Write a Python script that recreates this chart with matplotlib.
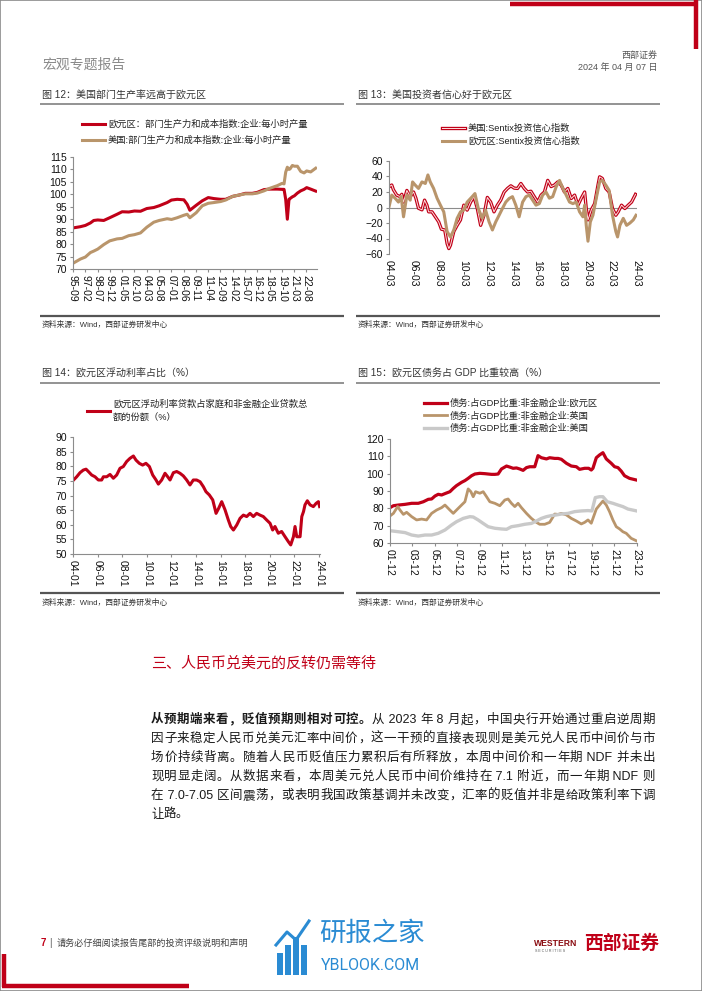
import re
import matplotlib
matplotlib.use("Agg")
import matplotlib.pyplot as plt
from matplotlib.lines import Line2D
from matplotlib.patches import Rectangle
from matplotlib.legend_handler import HandlerTuple

plt.rcParams['font.family'] = ['Liberation Sans', 'Noto Sans CJK SC', 'DejaVu Sans']

# ---------------- data ----------------
# Fig 12: productivity index (decimal years)
c1_years = [1995.67, 1996.52, 1997.09, 1997.67, 1998.06, 1998.52, 1999.21, 1999.90, 2000.75, 2001.33,
            2002.10, 2002.75, 2003.45, 2004.18, 2004.98, 2005.60, 2006.52, 2007.02, 2007.68, 2008.45,
            2008.83, 2009.14, 2009.87, 2010.57, 2011.26, 2011.91, 2012.68, 2013.26, 2014.10, 2014.80,
            2015.53, 2016.34, 2016.92, 2017.69, 2018.34, 2019.23, 2019.77, 2020.00, 2020.19, 2020.38,
            2020.57, 2020.69, 2020.96, 2021.19, 2021.54, 2021.92, 2022.31, 2022.61, 2023.07, 2023.65]
c1_euro = [86.5, 87.0, 87.5, 88.5, 89.5, 89.7, 89.5, 90.6, 92.0, 93.0,
           92.9, 93.3, 93.2, 94.3, 94.7, 95.4, 96.7, 97.7, 98.0, 97.8,
           96.0, 93.6, 95.6, 97.4, 98.7, 98.3, 98.0, 98.0, 99.2, 99.7,
           100.4, 100.4, 100.8, 101.9, 102.1, 102.1, 102.0, 102.0, 98.0, 90.0,
           98.0, 98.3, 99.0, 99.4, 100.5, 101.4, 102.0, 102.7, 102.1, 101.3]
c1_us = [72.3, 74.0, 74.8, 76.6, 77.2, 78.0, 79.8, 81.3, 82.1, 82.3,
         83.4, 83.8, 84.5, 86.8, 88.8, 89.5, 90.2, 89.9, 90.6, 91.6,
         92.0, 90.6, 92.6, 95.4, 96.4, 96.7, 97.1, 97.7, 99.2, 99.7,
         100.2, 100.2, 100.5, 101.4, 102.4, 103.5, 104.4, 104.2, 108.9, 110.9,
         110.0, 110.2, 111.6, 111.3, 111.3, 109.2, 108.6, 109.4, 109.0, 110.5]
c1_ticklabels = ['95-09', '97-02', '98-07', '99-12', '01-05', '02-10', '04-03', '05-08', '07-01', '08-06',
                 '09-11', '11-04', '12-09', '14-02', '15-07', '16-12', '18-05', '19-10', '21-03', '22-08']
c1_names = ['欧元区：部门生产力和成本指数:企业:每小时产量', '美国:部门生产力和成本指数:企业:每小时产量']

# Fig 13: Sentix investor confidence
c2_us_years = [2004.17, 2004.39, 2004.52, 2004.79, 2005.06, 2005.20, 2005.34, 2005.61, 2005.88, 2006.15,
               2006.34, 2006.55, 2006.83, 2007.04, 2007.23, 2007.37, 2007.64, 2007.91, 2008.18, 2008.40,
               2008.67, 2008.86, 2009.00, 2009.13, 2009.40, 2009.67, 2009.94, 2010.21, 2010.48, 2010.76,
               2011.03, 2011.30, 2011.57, 2011.84, 2012.11, 2012.38, 2012.65, 2012.92, 2013.19, 2013.47,
               2013.74, 2014.01, 2014.28, 2014.55, 2014.82, 2015.09, 2015.36, 2015.63, 2015.90, 2016.18,
               2016.45, 2016.72, 2016.99, 2017.26, 2017.53, 2017.80, 2018.07, 2018.34, 2018.61, 2018.89,
               2019.16, 2019.43, 2019.70, 2019.97, 2020.10, 2020.24, 2020.51, 2020.78, 2021.05, 2021.18,
               2021.40, 2021.68, 2021.95, 2022.22, 2022.49, 2022.68, 2022.95, 2023.22, 2023.49, 2023.76,
               2024.08]
c2_us_vals = [26.7, 29, 23, 16, 14, 17, 7, 22, 14, 20,
              12, -1, -3, 9.5, 3, -5.6, -5.6, -12, -18.5, -28,
              -29, -46.6, -53, -48.7, -31, -23, -16, 3, -3.4, 7,
              14, -1.3, -23, -10, 13, 7, -5.6, 3, 9.5, 20,
              24.6, 28, 25, 24.6, 31, 24.6, 20, 21, 14, 7,
              16, 20, 35, 27, 29, 33, 29, 20, 24.6, 11.6,
              16, 3, 12, 20, -1, -16, -3, 5, 29, 39.6,
              37.5, 24.6, 20, -1.3, -10, -5.6, 3, -1.3, 3, 7,
              17]
c2_eu_years = [2004.17, 2004.39, 2004.66, 2004.93, 2005.15, 2005.34, 2005.61, 2005.88, 2006.07, 2006.28,
               2006.55, 2006.83, 2007.10, 2007.31, 2007.50, 2007.77, 2008.05, 2008.32, 2008.59, 2008.86,
               2009.13, 2009.40, 2009.67, 2009.94, 2010.21, 2010.48, 2010.89, 2011.11, 2011.38, 2011.70,
               2011.97, 2012.25, 2012.52, 2012.79, 2013.06, 2013.33, 2013.60, 2013.87, 2014.14, 2014.41,
               2014.68, 2014.96, 2015.23, 2015.50, 2015.77, 2016.04, 2016.31, 2016.58, 2016.85, 2017.12,
               2017.39, 2017.67, 2017.94, 2018.21, 2018.48, 2018.75, 2019.02, 2019.29, 2019.56, 2019.83,
               2019.97, 2020.10, 2020.24, 2020.43, 2020.64, 2020.91, 2021.18, 2021.40, 2021.68, 2021.95,
               2022.22, 2022.49, 2022.63, 2022.82, 2023.09, 2023.36, 2023.63, 2023.90, 2024.12]
c2_eu_vals = [1, 16, 12, 7, 14, -12, 16, 9.5, 33, 29,
              24.6, 33, 31, 42, 33, 24.6, 12, 3, -5.6, -31,
              -38, -29, -14, -5.6, -3.4, 7, 14, 18, -1.3, -14,
              -3.4, -18.5, -29, -18.5, -10, -1.3, 7, 11.6, 14, 3,
              -12, 7, 14, 16, 9.5, 3, 5, 16, 20, 12,
              14, 26.7, 35, 24.6, 16, 7, 5, 7, -5.6, -12,
              3, -23, -43.5, -18.5, -10, 12, 33, 35, 29, 22,
              -10, -31, -38, -23, -14, -23, -20, -16, -10]
c2_ticklabels = ['04-03', '06-03', '08-03', '10-03', '12-03', '14-03', '16-03', '18-03', '20-03', '22-03', '24-03']
c2_names = ['美国:Sentix投资信心指数', '欧元区:Sentix投资信心指数']

# Fig 14: euro area floating-rate loan share (%)
c3_years = [2004.00, 2004.30, 2004.57, 2004.84, 2005.06, 2005.25, 2005.52, 2005.79, 2006.06, 2006.33,
            2006.47, 2006.74, 2007.01, 2007.28, 2007.55, 2007.82, 2008.09, 2008.36, 2008.63, 2008.91,
            2009.12, 2009.39, 2009.66, 2009.93, 2010.21, 2010.48, 2010.75, 2010.94, 2011.21, 2011.48,
            2011.70, 2011.89, 2012.16, 2012.43, 2012.70, 2012.97, 2013.24, 2013.51, 2013.78, 2014.05,
            2014.33, 2014.60, 2014.81, 2015.08, 2015.36, 2015.63, 2015.84, 2016.09, 2016.36, 2016.63,
            2016.82, 2017.04, 2017.31, 2017.58, 2017.85, 2018.12, 2018.39, 2018.66, 2018.93, 2019.20,
            2019.47, 2019.75, 2020.02, 2020.23, 2020.42, 2020.69, 2020.96, 2021.24, 2021.51, 2021.70,
            2021.92, 2022.05, 2022.19, 2022.46, 2022.60, 2022.74, 2022.86, 2023.05, 2023.27, 2023.54,
            2023.76, 2023.95, 2024.05]
c3_vals = [75.1, 76.4, 77.8, 78.7, 79.0, 78.2, 77.0, 76.4, 75.3, 75.3,
           76.4, 76.4, 77.2, 75.9, 77.0, 79.3, 79.9, 81.6, 82.7, 83.5,
           82.1, 81.0, 80.4, 81.0, 79.9, 77.0, 75.3, 73.9, 75.3, 77.6,
           76.4, 75.3, 77.8, 78.2, 77.6, 76.7, 75.3, 73.6, 75.3, 75.3,
           74.7, 73.0, 71.3, 70.2, 68.5, 63.9, 65.6, 67.9, 65.1, 61.6,
           59.4, 58.2, 59.9, 62.2, 63.3, 62.8, 63.9, 62.8, 63.9, 63.3,
           62.8, 61.6, 60.5, 58.2, 59.4, 57.1, 57.7, 55.9, 54.2, 53.1,
           55.9, 59.4, 55.9, 55.9, 62.8, 64.5, 66.8, 68.2, 66.8, 66.2,
           67.3, 67.9, 66.2]
c3_ticklabels = ['04-01', '06-01', '08-01', '10-01', '12-01', '14-01', '16-01', '18-01', '20-01', '22-01', '24-01']
c3_name = '欧元区浮动利率贷款占家庭和非金融企业贷款总\n额的份额（%）'

# Fig 15: non-financial corporate debt, % of GDP
c4_eu_years = [2001.92, 2002.22, 2002.66, 2003.26, 2003.85, 2004.44, 2004.89, 2005.33, 2005.63, 2005.93,
               2006.22, 2006.52, 2006.82, 2007.26, 2007.56, 2007.85, 2008.30, 2008.60, 2008.89, 2009.19,
               2009.49, 2009.93, 2010.38, 2010.67, 2010.97, 2011.27, 2011.56, 2011.86, 2012.31, 2012.60,
               2012.90, 2013.20, 2013.49, 2013.79, 2014.09, 2014.38, 2014.83, 2015.12, 2015.42, 2015.87,
               2016.16, 2016.61, 2016.91, 2017.20, 2017.65, 2018.09, 2018.54, 2018.83, 2019.28, 2019.64,
               2019.87, 2020.02, 2020.32, 2020.61, 2020.91, 2021.21, 2021.65, 2021.95, 2022.25, 2022.54,
               2022.84, 2023.28, 2023.92]
c4_eu_vals = [80.4, 81.5, 81.9, 82.3, 82.9, 82.9, 83.8, 85.2, 85.4, 87.1,
              88.1, 87.7, 88.5, 89.6, 91.5, 93.1, 95.0, 96.0, 97.3, 98.8,
              99.8, 100.2, 100.0, 99.8, 99.6, 99.6, 99.8, 102.7, 104.4, 103.8,
              103.1, 103.3, 102.7, 101.9, 103.5, 104.0, 104.0, 110.4, 109.2, 108.5,
              109.2, 108.8, 108.8, 108.3, 106.0, 104.4, 104.0, 102.5, 103.1, 103.1,
              102.1, 103.1, 109.2, 110.8, 112.1, 108.5, 106.0, 104.0, 103.5, 101.5,
              98.8, 97.3, 96.3]
c4_uk_years = [2001.92, 2002.22, 2002.60, 2002.81, 2003.11, 2003.40, 2003.85, 2004.29, 2004.74, 2005.18,
               2005.63, 2006.07, 2006.52, 2006.82, 2007.26, 2007.56, 2007.85, 2008.30, 2008.60, 2008.89,
               2009.13, 2009.34, 2009.55, 2009.93, 2010.23, 2010.53, 2010.82, 2011.27, 2011.71, 2012.16,
               2012.45, 2012.75, 2013.05, 2013.34, 2013.64, 2014.09, 2014.53, 2014.98, 2015.27, 2015.72,
               2016.16, 2016.61, 2016.91, 2017.20, 2017.65, 2018.09, 2018.54, 2018.98, 2019.28, 2019.58,
               2019.87, 2020.32, 2020.61, 2020.91, 2021.21, 2021.50, 2021.80, 2022.10, 2022.40, 2022.69,
               2022.99, 2023.43, 2023.92]
c4_uk_vals = [75.6, 77.1, 81.0, 79.0, 76.5, 77.7, 75.2, 73.3, 73.8, 73.3,
              77.1, 79.0, 80.4, 81.9, 79.0, 77.1, 79.0, 81.9, 83.8, 91.2,
              89.6, 86.7, 89.6, 88.7, 89.6, 86.7, 83.8, 82.9, 81.5, 84.8,
              85.4, 82.9, 81.0, 82.9, 80.4, 77.1, 74.2, 71.9, 70.8, 70.8,
              71.9, 76.7, 76.5, 77.1, 76.2, 74.2, 72.7, 71.0, 71.9, 73.3,
              71.4, 79.6, 81.9, 84.2, 81.9, 78.1, 73.3, 69.4, 68.1, 66.5,
              65.6, 62.7, 61.2]
c4_us_years = [2001.92, 2002.66, 2003.26, 2003.85, 2004.44, 2005.04, 2005.63, 2006.22, 2006.82, 2007.41,
               2007.85, 2008.45, 2009.04, 2009.34, 2009.78, 2010.23, 2010.67, 2011.27, 2011.86, 2012.31,
               2012.75, 2013.34, 2013.94, 2014.53, 2014.98, 2015.42, 2015.87, 2016.31, 2016.76, 2017.20,
               2017.80, 2018.39, 2018.98, 2019.58, 2019.93, 2020.23, 2020.61, 2020.91, 2021.30, 2021.80,
               2022.25, 2022.69, 2023.14, 2023.92]
c4_us_vals = [67.1, 66.5, 66.0, 64.6, 64.0, 64.6, 64.6, 65.6, 67.5, 70.4,
              72.3, 74.2, 75.2, 75.0, 73.3, 71.3, 69.4, 68.5, 68.1, 67.9,
              69.4, 70.0, 70.8, 71.3, 72.7, 74.2, 75.2, 75.8, 76.2, 76.7,
              77.1, 78.1, 78.5, 78.7, 78.5, 86.2, 86.7, 86.7, 83.8, 82.9,
              81.9, 81.0, 79.6, 78.5]
c4_ticklabels = ['01-12', '03-12', '05-12', '07-12', '09-12', '11-12', '13-12', '15-12', '17-12', '19-12', '21-12', '23-12']
c4_names = ['债务:占GDP比重:非金融企业:欧元区', '债务:占GDP比重:非金融企业:英国', '债务:占GDP比重:非金融企业:美国']

titles = ['图 12：美国部门生产率远高于欧元区', '图 13：美国投资者信心好于欧元区',
          '图 14：欧元区浮动利率占比（%）', '图 15：欧元区债务占 GDP 比重较高（%）']
source = '资料来源：Wind，西部证券研发中心'
section = '三、人民币兑美元的反转仍需等待'
body_lines = [
    '从预期端来看，贬值预期则相对可控。从 2023 年 8 月起，中国央行开始通过重启逆周期',
    '因子来稳定人民币兑美元汇率中间价，这一干预的直接表现则是美元兑人民币中间价与市',
    '场价持续背离。随着人民币贬值压力累积后有所释放，本周中间价和一年期 NDF 并未出',
    '现明显走阔。从数据来看，本周美元兑人民币中间价维持在 7.1 附近，而一年期 NDF 则',
    '在 7.0-7.05 区间震荡，或表明我国政策基调并未改变，汇率的贬值并非是给政策利率下调',
    '让路。',
]
bold_prefix = 17

RED = '#C00018'
TAN = '#B9956B'
GRAY = '#C9C9C9'
SPINE = '#8C8C8C'
PINK = '#FFE0E0'

W, H = 702, 991
fig = plt.figure(figsize=(W / 100, H / 100), dpi=100)


def fx(x):
    return x / W


def fy(y):
    return 1 - y / H


def add_ax(l, t, r, b):
    return fig.add_axes([fx(l), fy(b), (r - l) / W, (b - t) / H])


def lab2year(s):
    yy, mm = s.split('-')
    y = int(yy)
    y = 1900 + y if y > 50 else 2000 + y
    return y + (int(mm) - 1) / 12


def style(ax, xlabels, xmin, xmax, ymin, ymax, ystep):
    for s in ['top', 'right']:
        ax.spines[s].set_visible(False)
    for s in ['left', 'bottom']:
        ax.spines[s].set_color(SPINE)
        ax.spines[s].set_linewidth(0.8)
    ax.set_xlim(xmin, xmax)
    ax.set_ylim(ymin, ymax)
    ax.set_yticks(list(range(ymin, ymax + 1, ystep)))
    ax.set_xticks([lab2year(s) for s in xlabels])
    ax.set_xticklabels(xlabels, rotation=270, ha='center', va='top')
    ax.tick_params(colors=SPINE, labelcolor='#111111', labelsize=7.5, length=2.5, width=0.8, pad=2)
    ax.patch.set_alpha(0)


def hline(x0, x1, y, color, lw):
    fig.add_artist(Line2D([fx(x0), fx(x1)], [fy(y), fy(y)], color=color, lw=lw, solid_capstyle='butt'))


def vline(x, y0, y1, color, lw):
    fig.add_artist(Line2D([fx(x), fx(x)], [fy(y0), fy(y1)], color=color, lw=lw, solid_capstyle='butt'))


def legend(ax, handles, labels, x, y, spacing, **kw):
    return ax.legend(handles, labels, loc='upper left', bbox_to_anchor=(fx(x), fy(y)),
                     bbox_transform=fig.transFigure, frameon=False, fontsize=6.7,
                     handlelength=2.5, handletextpad=0.3, borderpad=0, borderaxespad=0,
                     labelspacing=spacing, labelcolor='#222222', **kw)


# ---------------- page decoration ----------------
fig.add_artist(Rectangle((0, 0), 1, 1, transform=fig.transFigure, fill=False, edgecolor='#8a8a8a', lw=1.2))
hline(510, 697, 4, RED, 3.2)
vline(696, 0, 49, RED, 3.2)
hline(2, 189, 986, RED, 3.2)
vline(4, 954, 987, RED, 3.2)

fig.text(fx(42), fy(65), '宏观专题报告', fontsize=10, color='#8a8a8a', va='center', ha='left')
fig.text(fx(657), fy(55), '西部证券', fontsize=6.5, color='#555555', va='center', ha='right')
fig.text(fx(657), fy(67), '2024 年 04 月 07 日', fontsize=6.5, color='#555555', va='center', ha='right')

# titles, rules, sources
for (tx, ty), t in zip([(42, 95), (358, 95), (42, 373), (358, 373)], titles):
    fig.text(fx(tx), fy(ty), t, fontsize=7.2, color='#333333', va='center', ha='left')
for lx, rx in [(40, 344), (356, 660)]:
    hline(lx, rx, 104, '#808080', 1.2)
    hline(lx, rx, 383, '#808080', 1.2)
    hline(lx, rx, 316, '#555555', 1.6)
    hline(lx, rx, 593, '#555555', 1.6)
for sx, sy in [(42, 325), (358, 325), (42, 603), (358, 603)]:
    fig.text(fx(sx), fy(sy), source, fontsize=5.6, color='#333333', va='center', ha='left')

# ---------------- chart 1 ----------------
ax1 = add_ax(73, 157, 317, 269)
l1a, = ax1.plot(c1_years, c1_euro, color=RED, lw=2.2, solid_joinstyle='round')
l1b, = ax1.plot(c1_years, c1_us, color=TAN, lw=2.2, solid_joinstyle='round')
style(ax1, c1_ticklabels, 1995.67, 2023.8, 70, 115, 5)
legend(ax1, [l1a, l1b], c1_names, 82, 120, 0.68)

# ---------------- chart 2 ----------------
ax2 = add_ax(389, 161, 637, 254)
l2a, = ax2.plot(c2_us_years, c2_us_vals, color=RED, lw=2.4, solid_joinstyle='round')
l2a_in, = ax2.plot(c2_us_years, c2_us_vals, color=PINK, lw=0.7, solid_joinstyle='round')
l2b, = ax2.plot(c2_eu_years, c2_eu_vals, color=TAN, lw=2.2, solid_joinstyle='round')
style(ax2, c2_ticklabels, 2004.17, 2024.2, -60, 60, 20)
ax2.spines['bottom'].set_visible(False)
ax2.axhline(0, color=SPINE, lw=0.8, zorder=0)
ax2.tick_params(axis='x', length=0, pad=4)
legend(ax2, [(l2a, l2a_in), l2b], c2_names, 442, 124, 0.42,
       handler_map={tuple: HandlerTuple(ndivide=1, pad=0)})

# ---------------- chart 3 ----------------
ax3 = add_ax(73, 437, 320, 554)
l3, = ax3.plot(c3_years, c3_vals, color=RED, lw=2.2, solid_joinstyle='round')
style(ax3, c3_ticklabels, 2004.0, 2024.08, 50, 90, 5)
leg3 = legend(ax3, [l3], [c3_name], 87, 399, 0.1)
for t in leg3.get_texts():
    t.set_linespacing(1.75)

# ---------------- chart 4 ----------------
ax4 = add_ax(390, 439, 637, 543)
l4a, = ax4.plot(c4_eu_years, c4_eu_vals, color=RED, lw=2.3, solid_joinstyle='round')
l4b, = ax4.plot(c4_uk_years, c4_uk_vals, color=TAN, lw=2.0, solid_joinstyle='round')
l4c, = ax4.plot(c4_us_years, c4_us_vals, color=GRAY, lw=2.4, solid_joinstyle='round')
style(ax4, c4_ticklabels, 2001.92, 2023.95, 60, 120, 10)
legend(ax4, [l4a, l4b, l4c], c4_names, 424, 399, 0.36)

# ---------------- section text ----------------
fig.text(fx(151), fy(663), section, fontsize=10.8, color=RED, va='center', ha='left')

renderer = fig.canvas.get_renderer()


def justified(text, x0, x1, y, fs, nbold=0, justify=True):
    toks = re.findall(r' ?[A-Za-z0-9.\-]+ ?|.', text)
    arts = []
    pos = 0
    for tk in toks:
        weight = 'bold' if pos < nbold else 'normal'
        t = fig.text(fx(x0), fy(y), tk, fontsize=fs, color='#1a1a1a', va='center', ha='left',
                     fontweight=weight)
        arts.append(t)
        pos += len(tk)
    widths = [a.get_window_extent(renderer=renderer).width for a in arts]
    total = sum(widths)
    gap = (x1 - x0 - total) / (len(arts) - 1) if (justify and len(arts) > 1) else 0.0
    x = x0
    for a, w in zip(arts, widths):
        a.set_x(fx(x))
        x += w + gap


for i, line in enumerate(body_lines):
    y = 720 + i * 18.9
    justified(line, 151, 655, y, 9.0, nbold=bold_prefix if i == 0 else 0,
              justify=(i < len(body_lines) - 1))

# ---------------- footer ----------------
fig.text(fx(41), fy(943), '7', fontsize=7, color=RED, fontweight='bold', va='center', ha='left')
fig.text(fx(49), fy(943), '|', fontsize=7, color='#555555', va='center', ha='left')
fig.text(fx(57), fy(943), '请务必仔细阅读报告尾部的投资评级说明和声明', fontsize=6.6, color='#444444',
         va='center', ha='left')

BLUE = '#2A8BD3'
for bx, bh in [(277, 22), (285, 30), (293, 38), (301, 30)]:
    fig.add_artist(Rectangle((fx(bx), fy(975)), 6 / W, bh / H, transform=fig.transFigure,
                             facecolor=BLUE, edgecolor='none'))
fig.add_artist(Line2D([fx(276), fx(287), fx(296), fx(309)], [fy(945), fy(932), fy(940), fy(921)],
                      color=BLUE, lw=2.2, transform=fig.transFigure))
fig.text(fx(319), fy(934), '研报之家', fontsize=19, color=BLUE, va='center', ha='left')
fig.text(fx(321), fy(966), 'YBLOOK.COM', fontsize=11.5, color=BLUE, va='center', ha='left',
         family=['Roboto', 'DejaVu Sans'])

fig.text(fx(534), fy(943), 'WESTERN', fontsize=6.2, color='#8B0D12', fontweight='bold', va='center', ha='left')
fig.text(fx(535), fy(951), 'S E C U R I T I E S', fontsize=2.6, color='#555555', va='center', ha='left')
fig.text(fx(584), fy(944), '西部证券', fontsize=13.5, color=RED, fontweight='bold', va='center', ha='left')

fig.savefig('out.png', dpi=100)
